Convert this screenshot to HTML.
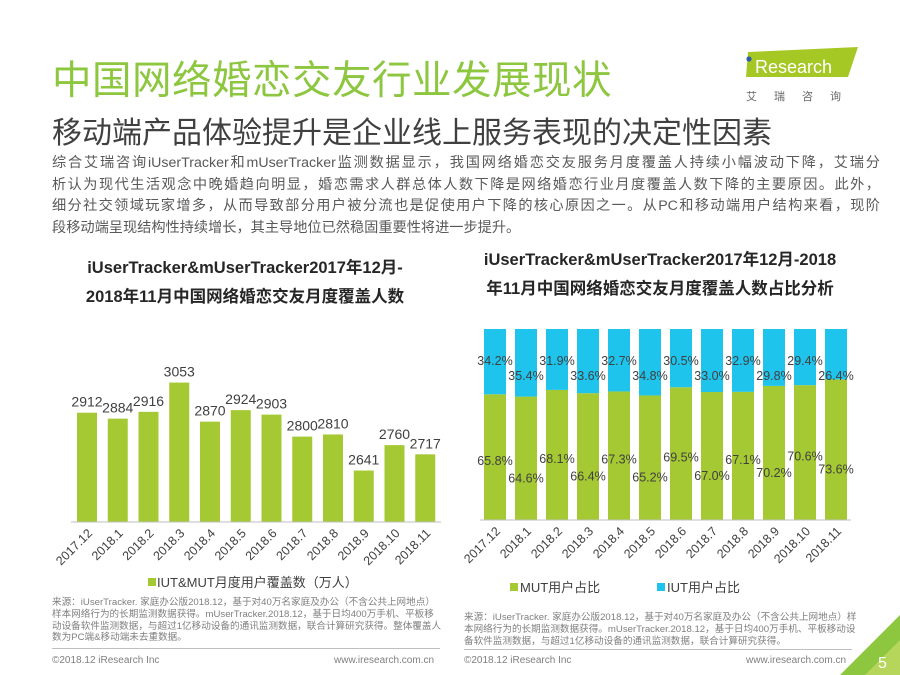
<!DOCTYPE html>
<html><head><meta charset="utf-8">
<style>
body{margin:0;width:900px;height:675px;background:#fff;overflow:hidden;position:relative;font-family:"Liberation Sans","Noto Sans CJK SC",sans-serif;}
.abs{position:absolute;}
#title{left:52px;top:49px;font-size:39.5px;color:#8dc63f;white-space:nowrap;letter-spacing:0.5px}
#subtitle{left:52px;top:108px;font-size:30px;color:#404040;white-space:nowrap}
#para{left:52px;top:153px;width:828px;font-size:14.2px;line-height:21.5px;color:#595959}
#para div{text-align:justify;text-align-last:justify;white-space:nowrap}
#para div.last{text-align-last:left}
.ct{font-weight:bold;font-size:16.5px;color:#262626;text-align:center;line-height:29px}
.note{font-size:9.6px;line-height:11.8px;color:#7f7f7f}
.foot{font-size:10px;color:#7f7f7f}
</style></head><body>
<div id="title" class="abs">中国网络婚恋交友行业发展现状</div>
<div id="subtitle" class="abs">移动端产品体验提升是企业线上服务表现的决定性因素</div>
<div id="para" class="abs">
<div>综合艾瑞咨询iUserTracker和mUserTracker监测数据显示，我国网络婚恋交友服务月度覆盖人持续小幅波动下降，艾瑞分</div>
<div>析认为现代生活观念中晚婚趋向明显，婚恋需求人群总体人数下降是网络婚恋行业月度覆盖人数下降的主要原因。此外，</div>
<div>细分社交领域玩家增多，从而导致部分用户被分流也是促使用户下降的核心原因之一。从PC和移动端用户结构来看，现阶</div>
<div class="last">段移动端呈现结构性持续增长，其主导地位已然稳固重要性将进一步提升。</div>
</div>

<div class="abs" style="left:742px;top:44px;width:120px;height:60px">
<svg width="120" height="60"><polygon points="6,8 116,3 106,33 4,33" fill="#a6c825"/><circle cx="7" cy="15" r="2.6" fill="#2e5ea8"/><rect x="5" y="19" width="4" height="12" fill="#a6c825"/>
<text x="13" y="29" font-size="18" fill="#fff" font-family="Liberation Sans">Research</text>
<text x="4" y="56" font-size="11" fill="#666" font-family="Noto Sans CJK SC" letter-spacing="17">艾瑞咨询</text></svg></div>

<div class="abs ct" style="left:40px;top:254px;width:410px">iUserTracker&amp;mUserTracker2017年12月-<br>2018年11月中国网络婚恋交友月度覆盖人数</div>
<div class="abs ct" style="left:455px;top:246px;width:410px">iUserTracker&amp;mUserTracker2017年12月-2018<br>年11月中国网络婚恋交友月度覆盖人数占比分析</div>

<svg class="abs" style="left:0;top:0" width="900" height="675" id="charts"></svg>

<div class="abs note" style="left:52px;top:597px;width:390px">来源：iUserTracker. 家庭办公版2018.12，基于对40万名家庭及办公（不含公共上网地点）样本网络行为的长期监测数据获得。mUserTracker.2018.12，基于日均400万手机、平板移动设备软件监测数据，与超过1亿移动设备的通讯监测数据，联合计算研究获得。整体覆盖人数为PC端&amp;移动端未去重数据。</div>
<div class="abs note" style="left:464px;top:612px;width:400px">来源：iUserTracker. 家庭办公版2018.12，基于对40万名家庭及办公（不含公共上网地点）样本网络行为的长期监测数据获得。mUserTracker.2018.12，基于日均400万手机、平板移动设备软件监测数据，与超过1亿移动设备的通讯监测数据，联合计算研究获得。</div>
<div class="abs" style="left:52px;top:648px;width:388px;height:1px;background:#bfbfbf"></div>
<div class="abs" style="left:464px;top:649px;width:388px;height:1px;background:#bfbfbf"></div>
<div class="abs foot" style="left:52px;top:655px">©2018.12 iResearch Inc</div>
<div class="abs foot" style="left:334px;top:655px">www.iresearch.com.cn</div>
<div class="abs foot" style="left:464px;top:655px">©2018.12 iResearch Inc</div>
<div class="abs foot" style="left:746px;top:655px">www.iresearch.com.cn</div>
<svg class="abs" style="left:840px;top:615px" width="60" height="60"><polygon points="60,0 60,60 0,60" fill="#8dc63f"/><polygon points="60,25 60,60 25,60" fill="#b5d65a"/><text x="38" y="53" font-size="16" fill="#fff">5</text></svg>

<script>
const cats=["2017.12","2018.1","2018.2","2018.3","2018.4","2018.5","2018.6","2018.7","2018.8","2018.9","2018.10","2018.11"];
const users=[2912,2884,2916,3053,2870,2924,2903,2800,2810,2641,2760,2717];
const mutShare=[65.8,64.6,68.1,66.4,67.3,65.2,69.5,67.0,67.1,70.2,70.6,73.6];
const iutShare=[34.2,35.4,31.9,33.6,32.7,34.8,30.5,33.0,32.9,29.8,29.4,26.4];
const NS="http://www.w3.org/2000/svg";
const svg=document.getElementById('charts');
function mk(t,a,txt){const e=document.createElementNS(NS,t);for(const k in a)e.setAttribute(k,a[k]);if(txt!==undefined)e.textContent=txt;svg.appendChild(e);return e;}
const F='"Liberation Sans","Noto Sans CJK SC",sans-serif';
// left chart
const L={x0:71,step:30.75,bw:20,base:522,min:2400,k:0.2135};
const lx=i=>L.x0+6+i*L.step;
const ly=v=>L.base-(v-L.min)*L.k;
users.forEach((v,i)=>{
 const r=mk('rect',{x:lx(i),y:ly(v),width:L.bw,height:L.base-ly(v),fill:'#a5c933'});
 
 
 const t=mk('text',{x:lx(i)+L.bw/2,y:ly(v)-6,'font-size':14,fill:'#404040','text-anchor':'middle','font-family':F},v);
 
 
 const c=mk('text',{x:lx(i)+L.bw/2+6,y:L.base+12,'font-size':12.5,fill:'#404040','text-anchor':'end','font-family':F,transform:`rotate(-45 ${lx(i)+L.bw/2+6} ${L.base+12})`},cats[i]);
 
 
});
mk('line',{x1:L.x0,x2:441,y1:L.base,y2:L.base,stroke:'#bfbfbf','stroke-width':1});
mk('rect',{x:148,y:578,width:8,height:8,fill:'#a5c933'});
const lg=mk('text',{x:157,y:587,'font-size':13,fill:'#404040','font-family':F},'IUT&MUT月度用户覆盖数（万人）');


// right chart
const R={x0:484,step:31,bw:22,base:520,top:329};
const rx=i=>R.x0+i*R.step;
const H=R.base-R.top;
cats.forEach((c,i)=>{
 const tot=mutShare[i]+iutShare[i];
 const hm=H*mutShare[i]/tot;
 const g=mk('rect',{x:rx(i),y:R.base-hm,width:R.bw,height:hm,fill:'#a5c933'});
 
 
 const b=mk('rect',{x:rx(i),y:R.top,width:R.bw,height:H-hm,fill:'#1fc4ec'});
 
 
 const odd=i%2;
 const t1=mk('text',{x:rx(i)+R.bw/2,y:R.top+36+odd*15,'font-size':12.5,fill:'#404040','text-anchor':'middle','font-family':F},iutShare[i].toFixed(1)+'%');
 
 
 const t2=mk('text',{x:rx(i)+R.bw/2,y:R.base-hm/2+(odd?24:8),'font-size':12.5,fill:'#404040','text-anchor':'middle','font-family':F},mutShare[i].toFixed(1)+'%');
 
 
 const cx=rx(i)+R.bw/2+6;
 const cl=mk('text',{x:cx,y:R.base+12,'font-size':12.5,fill:'#404040','text-anchor':'end','font-family':F,transform:`rotate(-45 ${cx} ${R.base+12})`},c);
 
 
});
mk('line',{x1:480,x2:851,y1:R.base,y2:R.base,stroke:'#bfbfbf','stroke-width':1});
mk('rect',{x:510,y:583,width:8,height:8,fill:'#a5c933'});
const l1=mk('text',{x:520,y:592,'font-size':13,fill:'#404040','font-family':F},'MUT用户占比');


mk('rect',{x:657,y:583,width:8,height:8,fill:'#1fc4ec'});
const l2=mk('text',{x:667,y:592,'font-size':13,fill:'#404040','font-family':F},'IUT用户占比');


</script>
</body></html>
